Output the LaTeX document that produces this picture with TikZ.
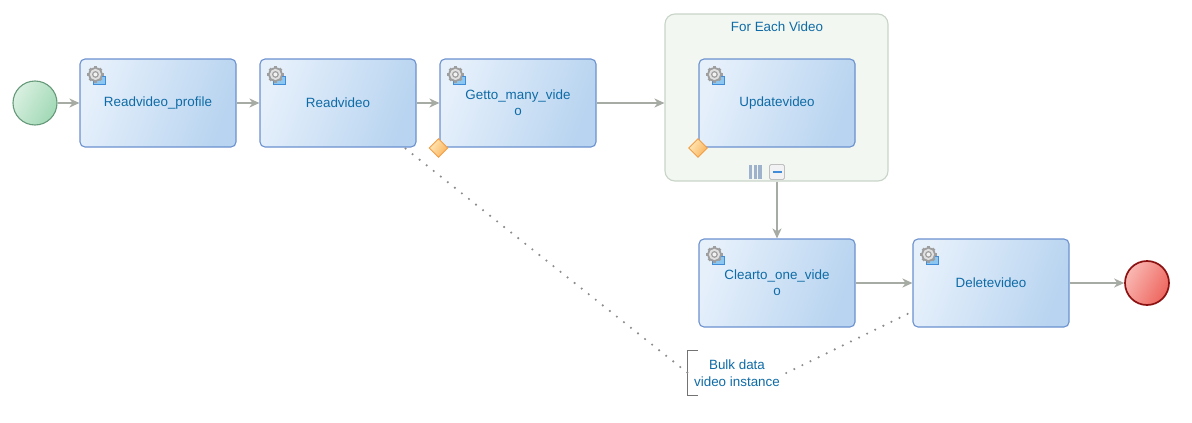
\documentclass[tikz,border=0pt]{standalone}
\usepackage{fontspec}
\setmainfont{Liberation Sans}
\usetikzlibrary{arrows.meta,shapes.geometric}
\definecolor{tasktext}{rgb}{0.06,0.42,0.65}
\definecolor{taskline}{rgb}{0.42,0.57,0.81}
\definecolor{tasklight}{rgb}{0.90,0.94,0.985}
\definecolor{taskdark}{rgb}{0.72,0.83,0.94}
\definecolor{flowgray}{rgb}{0.65,0.67,0.64}
\definecolor{startline}{rgb}{0.40,0.60,0.48}
\definecolor{startlight}{rgb}{0.85,0.94,0.88}
\definecolor{startdark}{rgb}{0.63,0.85,0.71}
\definecolor{endline}{rgb}{0.55,0.07,0.07}
\definecolor{endlight}{rgb}{0.98,0.72,0.70}
\definecolor{enddark}{rgb}{0.93,0.40,0.37}
\definecolor{looplight}{rgb}{0.95,0.97,0.945}
\definecolor{loopline}{rgb}{0.79,0.83,0.79}
\definecolor{errlight}{rgb}{1.0,0.91,0.72}
\definecolor{errdark}{rgb}{0.98,0.70,0.36}
\definecolor{errline}{rgb}{0.95,0.62,0.28}
\definecolor{iconblue}{rgb}{0.55,0.78,0.95}
\definecolor{iconline}{rgb}{0.25,0.55,0.85}
\definecolor{barcolor}{rgb}{0.62,0.70,0.80}
\tikzset{
  taskbox/.style={draw=taskline, line width=1.1pt, rounded corners=5pt, minimum width=156pt, minimum height=88pt,
    left color=tasklight, right color=taskdark, shading angle=70,
    text=tasktext, align=center, font=\fontsize{13.4}{16}\selectfont, inner sep=0pt},
  flow/.style={draw=flowgray, line width=1.6pt, -{Stealth[length=10pt,width=9pt,inset=3pt]}},
  assoc/.style={draw=black!45, line width=2.4pt, line cap=round, dash pattern=on 0pt off 9pt},
  boundary/.style={diamond, draw=errline, line width=0.9pt, minimum width=19pt, minimum height=19pt, inner sep=0pt,
    left color=errlight, right color=errdark, shading angle=60},
}
\newcommand{\taskicon}[1]{
  \begin{scope}[shift={(#1.north west)}]
    \draw[draw=iconline, fill=iconblue, line width=0.6pt] (14,18) rectangle (26,26);
    \foreach \a in {0,45,...,315}
      \fill[black!38, rotate around={\a:(16,16)}] (14.5,7.8) rectangle (17.5,10);
    \fill[black!38] (16,16) circle (7.2);
    \fill[black!12] (16,16) circle (5.6);
    \fill[black!38] (16,16) circle (3.4);
    \fill[black!5] (16,16) circle (2);
  \end{scope}
}
\begin{document}
\begin{tikzpicture}[x=1pt, y=-1pt]
\useasboundingbox (0,0) rectangle (1192,423);
\node[draw=loopline, line width=1.1pt, rounded corners=10pt, fill=looplight, minimum width=223pt, minimum height=167pt] (foreach) at (776.5,97.5) {};
\node[text=tasktext, font=\fontsize{13.4}{16}\selectfont] (foreachtitle) at (777,27) {For Each Video};
\node[circle, draw=startline, line width=1.1pt, minimum size=44pt, inner sep=0pt, left color=startlight, right color=startdark, shading angle=60] (start) at (35,103) {};
\node[taskbox] (readprofile) at (158,103) {\raisebox{-1pt}{Readvideo\_profile}};
\node[taskbox] (readvideo) at (338,103) {\raisebox{-1pt}{Readvideo}};
\node[taskbox] (getmany) at (518,103) {Getto\_many\_vide\\o};
\node[taskbox] (update) at (777,103) {\raisebox{-1pt}{Updatevideo}};
\node[taskbox] (clearone) at (777,283) {Clearto\_one\_vide\\o};
\node[taskbox] (delete) at (991,283) {\raisebox{-1pt}{Deletevideo}};
\node[circle, draw=endline, line width=1.7pt, minimum size=44pt, inner sep=0pt, left color=endlight, right color=enddark, shading angle=60] (end) at (1147,283) {};
\node[boundary] (getmanyerr) at (438.5,148) {};
\node[boundary] (updateerr) at (698,148) {};
\node[text=tasktext, align=center, font=\fontsize{13.4}{16.5}\selectfont, minimum width=98pt, minimum height=44pt, inner sep=0pt] (bulkdata) at (737,373) {Bulk data\\video instance};
\node[draw=black!25, fill=blue!10!black!5!white, rounded corners=1.5pt, line width=0.8pt, minimum size=15pt, inner sep=0pt] (collapse) at (777,172) {};
\node[inner sep=0pt, minimum width=13pt, minimum height=14pt] (loopmark) at (755.5,172) {};
\taskicon{readprofile}
\taskicon{readvideo}
\taskicon{getmany}
\taskicon{update}
\taskicon{clearone}
\taskicon{delete}
\fill[iconline] ([xshift=-4.5pt,yshift=-0.8pt]collapse.center) rectangle ([xshift=4.5pt,yshift=0.8pt]collapse.center);
\foreach \i in {0,1,2}
  \fill[barcolor] ([xshift=\i*4.8pt]loopmark.north west) rectangle ([xshift=\i*4.8pt+3.4pt]loopmark.south west);
\draw[black!55, line width=0.8pt] ([xshift=10pt]bulkdata.north west) -- (bulkdata.north west) -- (bulkdata.south west) -- ([xshift=10pt]bulkdata.south west);
\draw[flow] (start) -- (readprofile);
\draw[flow] (readprofile) -- (readvideo);
\draw[flow] (readvideo) -- (getmany);
\draw[flow] (getmany.east) -- (getmany.east -| foreach.west);
\draw[flow] (foreach.south -| clearone.north) -- (clearone.north);
\draw[flow] (clearone) -- (delete);
\draw[flow] (delete) -- (end);
\draw[assoc] ([xshift=-11pt,yshift=-1pt]readvideo.south east) -- (bulkdata.west);
\draw[assoc] (bulkdata.east) -- ([yshift=16pt]delete.south west);
\end{tikzpicture}
\end{document}
